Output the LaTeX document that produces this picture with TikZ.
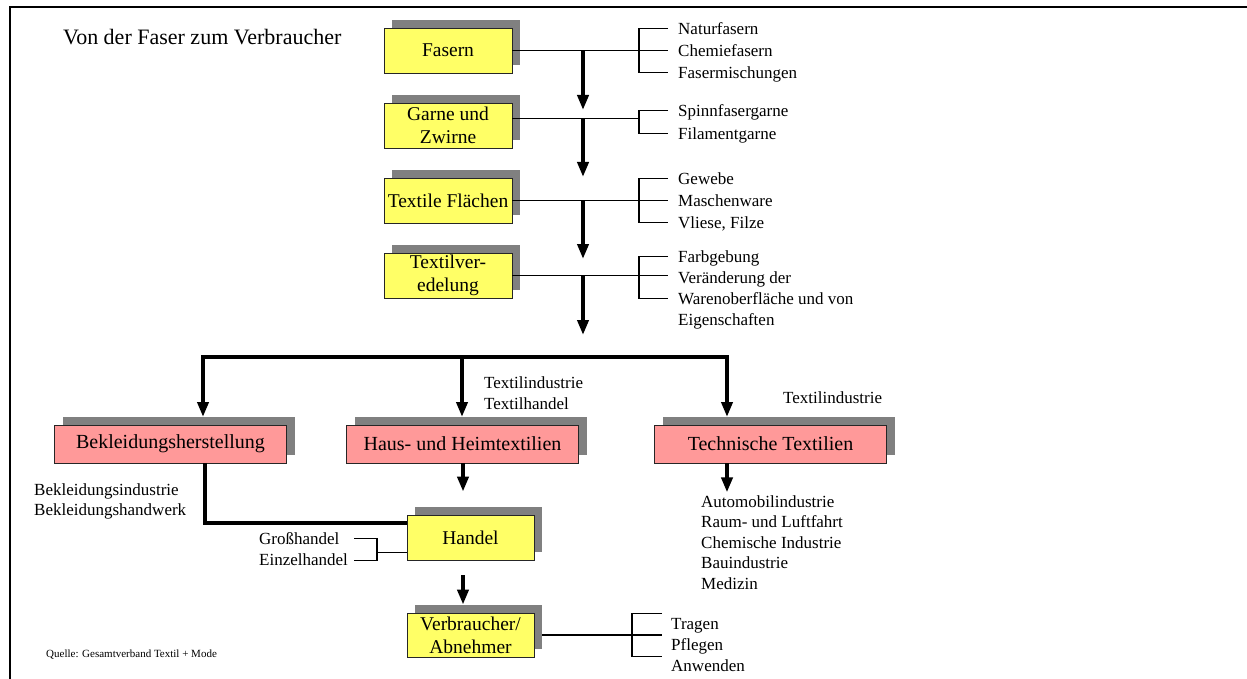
\documentclass[tikz,border=0pt]{standalone}
\usepackage{fontspec}
\setmainfont{Liberation Serif}
\usetikzlibrary{arrows.meta,shadows}
\definecolor{yellowbox}{HTML}{FFFF66}
\definecolor{pinkbox}{HTML}{FF9999}
\begin{document}
\begin{tikzpicture}[x=1pt,y=-1pt,
  box/.style={draw=black!85, line width=0.8pt, inner sep=0pt, align=center,
    drop shadow={shadow xshift=8pt, shadow yshift=8pt, fill=black!50, opacity=1}},
  ybox/.style={box, fill=yellowbox, minimum width=128pt, minimum height=45pt,
    font=\fontsize{19.5}{23}\selectfont},
  pbox/.style={box, fill=pinkbox, minimum width=232pt, minimum height=38pt,
    font=\fontsize{20}{23}\selectfont},
  item/.style={anchor=west, inner sep=0pt, text height=12pt, text depth=0pt,
    font=\fontsize{17}{20}\selectfont},
  thinline/.style={line width=1.1pt},
  flow/.style={line width=4.5pt, -{Triangle[length=15pt,width=11pt]}},
  bar/.style={line width=4.5pt}]
\useasboundingbox (0,0) rectangle (1247,679);
\fill[white] (0,0) rectangle (1247,679);
% frame
\draw[line width=2pt] (9.5,679) -- (9.5,7.5) -- (1247,7.5);
\node[anchor=west, inner sep=0pt, font=\fontsize{22}{26}\selectfont] (title) at (63,37) {Von der Faser zum Verbraucher};

% main column
\node[ybox] (fas) at (448,50.5) {Fasern};
\node[ybox] (gar) at (448,125.5) {Garne und\\Zwirne};
\node[ybox] (tfl) at (448,200.5) {Textile Flächen};
\node[ybox] (tve) at (448,275.5) {Textilver-\\edelung};

% Fasern list
\node[item] (nat) at (678,28.5) {Naturfasern};
\node[item] (che) at (678,50.5) {Chemiefasern};
\node[item] (fmi) at (678,72.5) {Fasermischungen};
\draw[thinline] (fas.east) -- ([xshift=-10pt]che.west);
\draw[thinline] ([xshift=-10pt]nat.west) -| ([xshift=-39pt]fmi.west) -- ([xshift=-10pt]fmi.west);

% Garne list
\node[item] (spi) at (678,110.5) {Spinnfasergarne};
\node[item] (fil) at (678,133.5) {Filamentgarne};
\coordinate (gj) at (639,118.5);
\draw[thinline] ([yshift=7pt]gar.east) -- (gj);
\draw[thinline] ([xshift=-10pt]spi.west) -| ([xshift=-39pt]fil.west) -- ([xshift=-10pt]fil.west);

% Flaechen list
\node[item] (gew) at (678,178.5) {Gewebe};
\node[item] (mas) at (678,200.5) {Maschenware};
\node[item] (vli) at (678,222.5) {Vliese, Filze};
\draw[thinline] (tfl.east) -- ([xshift=-10pt]mas.west);
\draw[thinline] ([xshift=-10pt]gew.west) -| ([xshift=-39pt]vli.west) -- ([xshift=-10pt]vli.west);

% Veredelung list
\node[item] (far) at (678,256.5) {Farbgebung};
\node[item] (ver1) at (678,277.5) {Veränderung der};
\node[item] (war) at (678,298.5) {Warenoberfläche und von};
\node[item] (eig) at (678,319.5) {Eigenschaften};
\draw[thinline] (tve.east) -- ([xshift=-10pt]ver1.west |- tve.east);
\draw[thinline] ([xshift=-10pt]far.west) -| ([xshift=-39pt]war.west) -- ([xshift=-10pt]war.west);

% flow arrows in the column
\coordinate (a1s) at (583,50.5);  \coordinate (a1e) at (583,110);
\coordinate (a2s) at (583,118.5); \coordinate (a2e) at (583,177);
\coordinate (a3s) at (583,200.5); \coordinate (a3e) at (583,259);
\coordinate (a4s) at (583,275.5); \coordinate (a4e) at (583,335);
\draw[flow] (a1s) -- (a1e);
\draw[flow] (a2s) -- (a2e);
\draw[flow] (a3s) -- (a3e);
\draw[flow] (a4s) -- (a4e);

% three branches
\node[pbox] (bek) at (170.5,444) {Bekleidungsherstellung};
\node[pbox] (hau) at (462.5,444) {Haus- und Heimtextilien};
\node[pbox] (tec) at (770.5,444) {Technische Textilien};
\coordinate (bl) at (203,357);
\coordinate (bm) at (462,357);
\coordinate (br) at (727,357);
\draw[bar, line cap=rect] (bl) -- (br);
\draw[flow] (bl) -- (bl |- 0,417);
\draw[flow] (bm) -- (bm |- 0,417);
\draw[flow] (br) -- (br |- 0,417);

\node[item] (ti1) at (484,382) {Textilindustrie};
\node[item] (th1) at (484,403) {Textilhandel};
\node[item] (ti2) at (783,397) {Textilindustrie};

\node[item] (bi) at (34,489) {Bekleidungsindustrie};
\node[item] (bh) at (34,509) {Bekleidungshandwerk};

% Handel and consumers
\node[ybox, minimum width=127pt] (han) at (470.5,537.5) {Handel};
\node[ybox, minimum width=127pt, minimum height=44pt] (vab) at (470.5,635) {Verbraucher/\\Abnehmer};

\draw[bar] ([xshift=34.5pt]bek.south) |- ([yshift=14.5pt]han.west);
\draw[flow] ([xshift=0.5pt]hau.south) -- ([xshift=-7.5pt,yshift=23pt]han.north);
\draw[flow] ([xshift=-7.5pt,yshift=-15pt]han.south) -- ([xshift=-7.5pt,yshift=8pt]vab.north);

\node[item] (gro) at (259,538.5) {Großhandel};
\node[item] (ein) at (259,559.5) {Einzelhandel};
\coordinate (gb1) at (354,538.5);
\coordinate (gb2) at (377,538.5);
\coordinate (gb3) at (377,560.5);
\coordinate (gb4) at (354,560.5);
\draw[thinline] (gb1) -- (gb2) -- (gb3) -- (gb4);
\draw[thinline] (gb2 |- 0,552.5) -- ([yshift=-15pt]han.west);

% Technische Textilien
\draw[flow] ([xshift=-43.5pt]tec.south) -- ([xshift=-43.5pt,yshift=-29pt]tec.south);
\node[item] (t1) at (701,501) {Automobilindustrie};
\node[item] (t2) at (701,521.5) {Raum- und Luftfahrt};
\node[item] (t3) at (701,542) {Chemische Industrie};
\node[item] (t4) at (701,562.5) {Bauindustrie};
\node[item] (t5) at (701,583) {Medizin};

% Verbraucher list
\node[item] (tra) at (671,623) {Tragen};
\node[item] (pfl) at (671,644) {Pflegen};
\node[item] (anw) at (671,665) {Anwenden};
\coordinate (vb1) at (662,613.5);
\coordinate (vb2) at (632,613.5);
\coordinate (vb3) at (632,656.5);
\coordinate (vb4) at (662,656.5);
\coordinate (vbm) at (662,635);
\draw[thinline] ([xshift=8pt]vab.east) -- (vbm);
\draw[thinline] (vb1) -- (vb2) -- (vb3) -- (vb4);

\node[anchor=west, inner sep=0pt, font=\fontsize{11}{13}\selectfont] (src) at (46,655) {Quelle: Gesamtverband Textil + Mode};
\end{tikzpicture}
\end{document}
